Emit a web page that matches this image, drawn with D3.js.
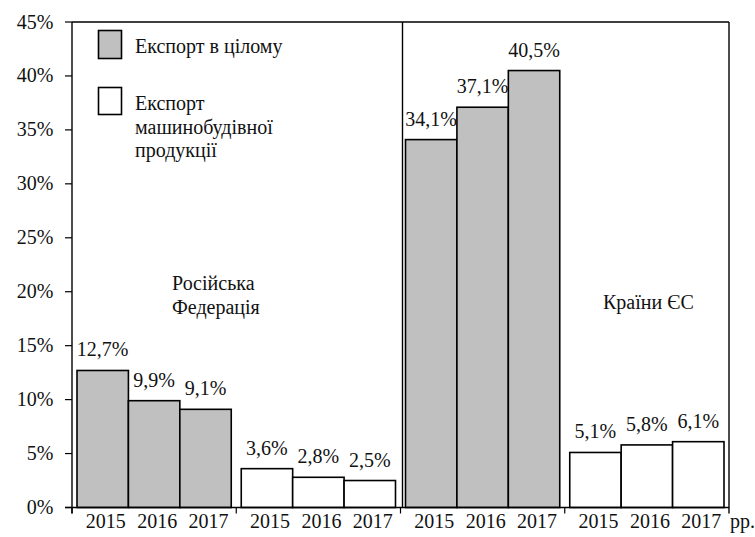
<!DOCTYPE html>
<html>
<head>
<meta charset="utf-8">
<script src="https://cdn.jsdelivr.net/npm/d3@7"></script>
</head>
<body style="margin:0">
<svg id="s" width="755" height="537" font-family="Liberation Serif"></svg>
<script>
// Export shares, %, by region and product group
const groups = ["rf_total", "rf_machinery", "eu_total", "eu_machinery"];
const years = ["2015", "2016", "2017"];
const rfTotal = [12.7, 9.9, 9.1];
const rfMachinery = [3.6, 2.8, 2.5];
const euTotal = [34.1, 37.1, 40.5];
const euMachinery = [5.1, 5.8, 6.1];
const yTicks = [0, 5, 10, 15, 20, 25, 30, 35, 40, 45];
const legendLabels = [["Експорт в цілому"], ["Експорт", "машинобудівної", "продукції"]];
const regionLabels = [["Російська", "Федерація"], ["Країни ЄС"]];
const unitLabel = "рр.";

const seriesByGroup = [rfTotal, rfMachinery, euTotal, euMachinery];
const isTotal = [true, false, true, false];
const GREY = "#c0c0c0";
const FONT = "Liberation Serif";

const svg = d3.select("#s");
svg.style("font-family", FONT, "important");
const plotLeft = 72, plotRight = 729, plotTop = 22, plotBottom = 507.5;

const y = d3.scaleLinear().domain([0, 45]).range([plotBottom, plotTop]);
const xGroup = d3.scaleBand().domain(groups).range([plotLeft, plotRight]).paddingInner(0).paddingOuter(0);
const groupPad = 5;
const xYear = d3.scaleBand().domain(years).range([groupPad, xGroup.bandwidth() - groupPad]).padding(0);

function txt(sel, x, yy, s, anchor) {
  return sel.append("text")
    .attr("x", x)
    .attr("y", yy)
    .attr("text-anchor", anchor || "start")
    .attr("font-family", FONT)
    .style("font-family", FONT, "important")
    .attr("font-size", 20)
    .attr("fill", "#111")
    .text(s);
}

// Bars
const bars = [];
groups.forEach((g, gi) => {
  seriesByGroup[gi].forEach((v, i) => {
    bars.push({ g, gi, year: years[i], v });
  });
});

svg.append("g").selectAll("rect").data(bars).join("rect")
  .attr("x", d => xGroup(d.g) + xYear(d.year))
  .attr("y", d => y(d.v))
  .attr("width", xYear.bandwidth())
  .attr("height", d => y(0) - y(d.v))
  .attr("fill", d => isTotal[d.gi] ? GREY : "#fff")
  .attr("stroke", "#000")
  .attr("stroke-width", 1.6);

// Value labels
bars.forEach(d => {
  const cx = xGroup(d.g) + xYear(d.year) + xYear.bandwidth() / 2;
  txt(svg, cx, y(d.v) - 14, d.v.toFixed(1).replace(".", ",") + "%", "middle");
});

// Frame: top, right and the divider between regions
const frame = svg.append("g").attr("stroke", "#000").attr("stroke-width", 1.4).attr("fill", "none");
frame.append("line").attr("x1", plotLeft).attr("x2", plotRight).attr("y1", plotTop).attr("y2", plotTop);
frame.append("line").attr("x1", plotRight).attr("x2", plotRight).attr("y1", plotTop).attr("y2", plotBottom + 6);
const divX = xGroup("eu_total") + 2;
frame.append("line").attr("x1", divX).attr("x2", divX).attr("y1", plotTop).attr("y2", plotBottom);

// Y axis
const yAxis = svg.append("g").attr("stroke", "#000");
yAxis.append("line").attr("x1", plotLeft).attr("x2", plotLeft).attr("y1", plotTop).attr("y2", plotBottom + 6)
  .attr("stroke-width", 1.4);
yTicks.forEach(t => {
  yAxis.append("line").attr("x1", plotLeft - 7).attr("x2", plotLeft).attr("y1", y(t)).attr("y2", y(t))
    .attr("stroke-width", 1.2);
  txt(svg, 53.5, y(t) + 6.5, t + "%", "end");
});

// X axis
const xAxis = svg.append("g").attr("stroke", "#000");
xAxis.append("line").attr("x1", plotLeft - 7).attr("x2", plotRight).attr("y1", plotBottom).attr("y2", plotBottom)
  .attr("stroke-width", 1.4);
groups.forEach(g => {
  const bx = xGroup(g);
  xAxis.append("line").attr("x1", bx).attr("x2", bx).attr("y1", plotBottom).attr("y2", plotBottom + 6)
    .attr("stroke-width", 1.2);
  years.forEach(yr => {
    txt(svg, bx + xYear(yr) + xYear.bandwidth() / 2 + 3, 528, yr, "middle");
  });
});
txt(svg, 730, 528, unitLabel, "start");

// Legend
svg.append("rect").attr("x", 98.5).attr("y", 30.5).attr("width", 23).attr("height", 28)
  .attr("fill", GREY).attr("stroke", "#000").attr("stroke-width", 1.6);
svg.append("rect").attr("x", 98.5).attr("y", 87.5).attr("width", 23).attr("height", 27)
  .attr("fill", "#fff").attr("stroke", "#000").attr("stroke-width", 1.6);
legendLabels[0].forEach((s, i) => txt(svg, 135, 53 + i * 23.5, s));
legendLabels[1].forEach((s, i) => txt(svg, 135, 110 + i * 23.5, s));

// Region captions
regionLabels[0].forEach((s, i) => txt(svg, 172, 290 + i * 24, s));
regionLabels[1].forEach((s, i) => txt(svg, 603, 309 + i * 24, s));
</script>
</body>
</html>
